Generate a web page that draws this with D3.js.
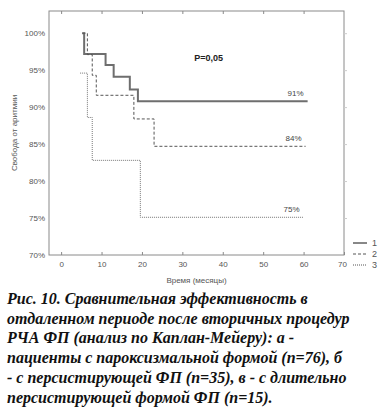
<!DOCTYPE html>
<html><head><meta charset="utf-8">
<script src="https://cdn.jsdelivr.net/npm/d3@7"></script>
<style>
html,body{margin:0;padding:0;background:#fff;}
svg{display:block;}
</style></head>
<body>
<svg id="chart" width="391" height="410"></svg>
<script>
// Data (time in months, survival %)
const curve1 = [[5.2,100],[5.7,97.2],[11,95.7],[13,94.1],[17,92.4],[19,90.8],[61,90.8]];
const curve2 = [[5.3,100],[6.5,97.1],[7.7,94.3],[8.7,91.6],[18,88.4],[23,84.7],[60.5,84.7]];
const curve3 = [[4.7,94.6],[6.5,88.6],[7.7,82.8],[19.6,75.1],[60,75.1]];
const seriesNames = ["1","2","3"];
const endLabels = ["91%","84%","75%"];
const xTicks = [0,10,20,30,40,50,60,70];
const yTicks = [70,75,80,85,90,95,100];
const pText = "P=0,05";
const xTitle = "Время (месяцы)";
const yTitle = "Свобода от аритмии";
const caption = [
  "Рис. 10. Сравнительная эффективность в",
  "отдаленном периоде после вторичных процедур",
  "РЧА ФП (анализ по Каплан-Мейеру): а -",
  "пациенты с пароксизмальной формой (n=76), б",
  "- с персистирующей ФП (n=35), в - с длительно",
  "персистирующей формой ФП (n=15)."
];

const svg = d3.select("#chart");
const L=49, R=344, T=11, B=255;
const x = d3.scaleLinear().domain([-3,70]).range([L,R]);
const y = d3.scaleLinear().domain([70,103]).range([B,T]);
const axisColor="#8a8a8a", textColor="#555";

// frame
svg.append("rect").attr("x",L).attr("y",T).attr("width",R-L).attr("height",B-T)
  .attr("fill","none").attr("stroke",axisColor).attr("stroke-width",1);

// bottom axis
const gx = svg.append("g").attr("transform",`translate(0,${B})`)
  .call(d3.axisBottom(x).tickValues(xTicks).tickSize(-3).tickPadding(6).tickFormat(d=>d));
gx.select(".domain").remove();
gx.selectAll("line").attr("stroke",axisColor);
gx.selectAll("text").attr("fill",textColor).style("font-family","Liberation Sans, Arial").style("font-size","8px");
gx.selectAll(".tick").filter(d=>d===70).select("text").attr("dx",-2);
// top ticks
svg.append("g").attr("transform",`translate(0,${T})`)
  .call(d3.axisTop(x).tickValues(xTicks.slice(0,7)).tickSize(-3).tickFormat(""))
  .call(g=>{g.select(".domain").remove(); g.selectAll("line").attr("stroke",axisColor);});

// left axis
const gy = svg.append("g").attr("transform",`translate(${L},0)`)
  .call(d3.axisLeft(y).tickValues(yTicks).tickSize(0).tickPadding(4).tickFormat(d=>d+"%"));
gy.select(".domain").remove();
gy.selectAll("text").attr("fill",textColor).style("font-family","Liberation Sans, Arial").style("font-size","8px");
// right ticks
svg.append("g").attr("transform",`translate(${R},0)`)
  .call(d3.axisRight(y).tickValues(yTicks.slice(1)).tickSize(3).tickFormat(""))
  .call(g=>{g.select(".domain").remove(); g.selectAll("line").attr("stroke","#ccc");});

// axis titles
svg.append("text").attr("x",(L+R)/2).attr("y",283).attr("text-anchor","middle")
  .attr("fill",textColor).style("font-family","Liberation Sans, Arial").style("font-size","8px").text(xTitle);
svg.append("text").attr("transform",`translate(17,${(T+B)/2}) rotate(-90)`).attr("text-anchor","middle")
  .attr("fill",textColor).style("font-family","Liberation Sans, Arial").style("font-size","8px").text(yTitle);

// curves
const line = d3.line().x(d=>x(d[0])).y(d=>y(d[1])).curve(d3.curveStepAfter);
const styles = [
  {stroke:"#6e6e6e", w:2, dash:null},
  {stroke:"#555", w:1, dash:"3,2"},
  {stroke:"#777", w:1, dash:"1,1"}
];
[curve1,curve2,curve3].forEach((c,i)=>{
  svg.append("path").datum(c).attr("d",line).attr("fill","none")
    .attr("stroke",styles[i].stroke).attr("stroke-width",styles[i].w)
    .attr("stroke-dasharray",styles[i].dash);
  const last = c[c.length-1];
  svg.append("text").attr("x",x(last[0])-4).attr("y",y(last[1])-5).attr("text-anchor","end")
    .attr("fill","#444").style("font-family","Liberation Sans, Arial").style("font-size","8px").text(endLabels[i]);
});

// P value
svg.append("text").attr("x",x(36.5)).attr("y",y(96.2)).attr("text-anchor","middle")
  .attr("fill","#222").style("font-family","Liberation Sans, Arial").style("font-size","9px").style("font-weight","bold").text(pText);

// legend
seriesNames.forEach((n,i)=>{
  const ly = 243 + i*11;
  svg.append("line").attr("x1",353).attr("x2",367).attr("y1",ly).attr("y2",ly)
    .attr("stroke", i===0?"#111":"#555").attr("stroke-width",1).attr("stroke-dasharray",styles[i].dash);
  svg.append("text").attr("x",372).attr("y",ly+3).attr("fill",textColor)
    .style("font-family","Liberation Sans, Arial").style("font-size","9px").text(n);
});

// caption
const cap = svg.append("text").attr("fill","#111")
  .style("font-family","Liberation Serif, Times New Roman, serif").style("font-size","16px")
  .style("font-weight","bold").style("font-style","italic");
caption.forEach((t,i)=>{
  cap.append("tspan").attr("x",7).attr("y",304+i*19.7).text(t);
});
</script>
</body></html>
